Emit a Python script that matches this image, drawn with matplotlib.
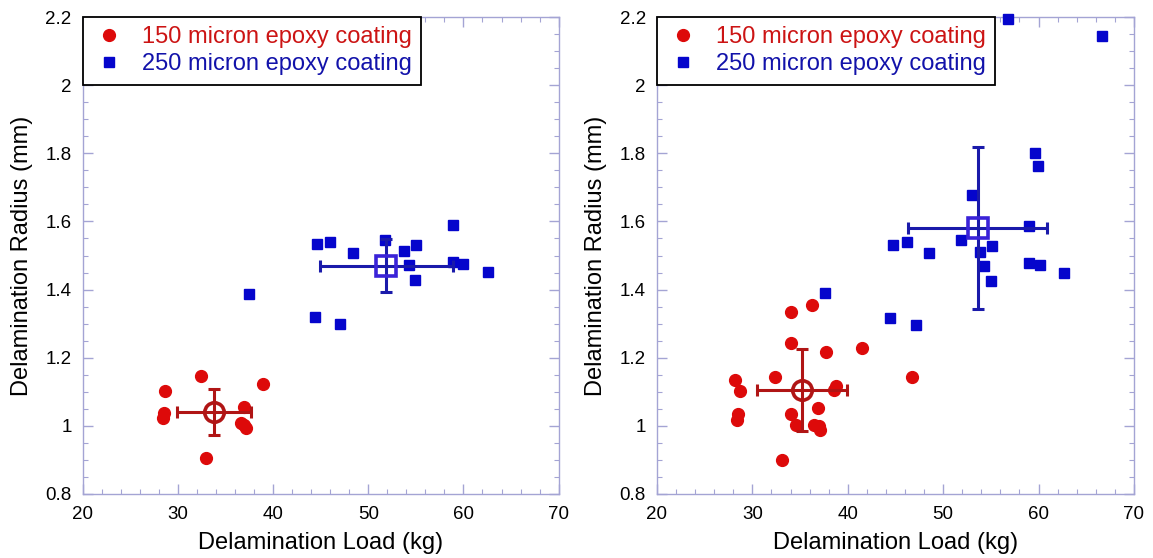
import matplotlib
matplotlib.use("Agg")
import matplotlib.pyplot as plt
from matplotlib.ticker import MultipleLocator

plt.rcParams["font.family"] = ["Liberation Sans", "DejaVu Sans"]

# ── Colours ────────────────────────────────────────────────────────────────
RED = "#dd0a0a"
RED_DARK = "#b01515"
BLUE = "#0505cc"
BLUE_MEAN = "#3a22d8"
BLUE_BAR = "#1a1aaa"
SPINE = "#a4a4d4"

# ── Data: left panel ───────────────────────────────────────────────────────
l150_x = [28.6, 28.5, 28.4, 32.4, 33.0, 36.9, 36.6, 36.9, 37.2, 38.9]
l150_y = [1.103, 1.039, 1.022, 1.145, 0.905, 1.054, 1.008, 1.003, 0.994, 1.124]
l250_x = [37.5, 44.4, 44.6, 46.0, 47.0, 48.4, 51.8, 53.8, 55.0, 54.3,
          54.9, 58.9, 58.9, 60.0, 62.6]
l250_y = [1.388, 1.320, 1.534, 1.541, 1.300, 1.508, 1.546, 1.512, 1.531, 1.471,
          1.428, 1.590, 1.480, 1.474, 1.451]
l150_mean = (33.8, 1.040, 3.9, 0.067)   # x, y, xerr, yerr
l250_mean = (51.9, 1.470, 7.0, 0.078)

# ── Data: right panel ──────────────────────────────────────────────────────
r150_x = [28.2, 28.7, 28.5, 28.35, 32.4, 33.1, 34.1, 34.0, 36.3, 37.7,
          41.5, 34.1, 34.6, 36.5, 37.0, 37.1, 36.9, 38.8, 38.6, 46.7]
r150_y = [1.136, 1.101, 1.034, 1.017, 1.142, 0.900, 1.334, 1.244, 1.354, 1.216,
          1.229, 1.036, 1.002, 1.003, 1.001, 0.989, 1.052, 1.118, 1.105, 1.144]
r250_x = [37.6, 44.4, 47.1, 44.7, 46.2, 48.5, 51.9, 53.0, 55.1, 53.9,
          54.3, 55.0, 59.0, 59.0, 60.1, 62.7, 59.6, 59.9, 56.8, 66.7]
r250_y = [1.390, 1.316, 1.297, 1.531, 1.539, 1.506, 1.546, 1.679, 1.529, 1.510,
          1.469, 1.426, 1.588, 1.479, 1.472, 1.448, 1.801, 1.763, 2.193, 2.144]
r150_mean = (35.2, 1.106, 4.67, 0.12)
r250_mean = (53.6, 1.580, 7.25, 0.238)

labels = ["150 micron epoxy coating", "250 micron epoxy coating"]

fig = plt.figure(figsize=(11.53, 5.58), dpi=100, facecolor="white")
ax_l = fig.add_axes([0.0717, 0.1147, 0.4128, 0.8548])
ax_r = fig.add_axes([0.5698, 0.1147, 0.4137, 0.8548])


def draw_panel(ax, x150, y150, x250, y250, m150, m250):
    ax.plot(x150, y150, "o", color=RED, ms=8.5, mec=RED, label=labels[0],
            zorder=3, clip_on=False)
    ax.plot(x250, y250, "s", color=BLUE, ms=7.3, mec=BLUE, label=labels[1],
            zorder=3, clip_on=False)

    ax.errorbar(m150[0], m150[1], xerr=m150[2], yerr=m150[3], fmt="none",
                ecolor=RED_DARK, elinewidth=2.2, capsize=4, capthick=2.2, zorder=4)
    ax.plot(m150[0], m150[1], "o", ms=14, mfc="none", mec=RED_DARK, mew=2.6, zorder=5)

    ax.errorbar(m250[0], m250[1], xerr=m250[2], yerr=m250[3], fmt="none",
                ecolor=BLUE_BAR, elinewidth=2.2, capsize=4, capthick=2.2, zorder=4)
    ax.plot(m250[0], m250[1], "s", ms=15, mfc="none", mec=BLUE_MEAN, mew=2.6, zorder=5)

    ax.set_xlim(20, 70)
    ax.set_ylim(0.8, 2.2)
    ax.xaxis.set_major_locator(MultipleLocator(10))
    ax.xaxis.set_minor_locator(MultipleLocator(2))
    ax.yaxis.set_minor_locator(MultipleLocator(0.05))
    ax.set_yticks([0.8, 1.0, 1.2, 1.4, 1.6, 1.8, 2.0, 2.2])
    ax.set_yticklabels(["0.8", "1", "1.2", "1.4", "1.6", "1.8", "2", "2.2"])

    for s in ax.spines.values():
        s.set_color(SPINE)
        s.set_linewidth(1.0)
    ax.tick_params(which="both", direction="in", top=True, right=True,
                   color=SPINE, labelsize=13.5)
    ax.tick_params(axis="y", pad=8)
    ax.tick_params(axis="x", pad=9)
    ax.tick_params(which="major", length=7, width=1)
    ax.tick_params(which="minor", length=3.5, width=0.8)

    ax.set_xlabel("Delamination Load (kg)", fontsize=17, labelpad=6)
    ax.set_ylabel("Delamination Radius (mm)", fontsize=17, labelpad=9)

    leg = ax.legend(loc="upper left", bbox_to_anchor=(0, 1), borderaxespad=0,
                    fontsize=17, fancybox=False, framealpha=1, edgecolor="black",
                    handletextpad=0.7, handlelength=1.4, borderpad=0.4,
                    labelspacing=0.2)
    leg.get_frame().set_linewidth(1.3)
    leg.texts[0].set_color("#cc1414")
    leg.texts[1].set_color("#1212aa")
    leg.set_zorder(6)


draw_panel(ax_l, l150_x, l150_y, l250_x, l250_y, l150_mean, l250_mean)
draw_panel(ax_r, r150_x, r150_y, r250_x, r250_y, r150_mean, r250_mean)

fig.savefig("out.png", dpi=100, facecolor=fig.get_facecolor())
